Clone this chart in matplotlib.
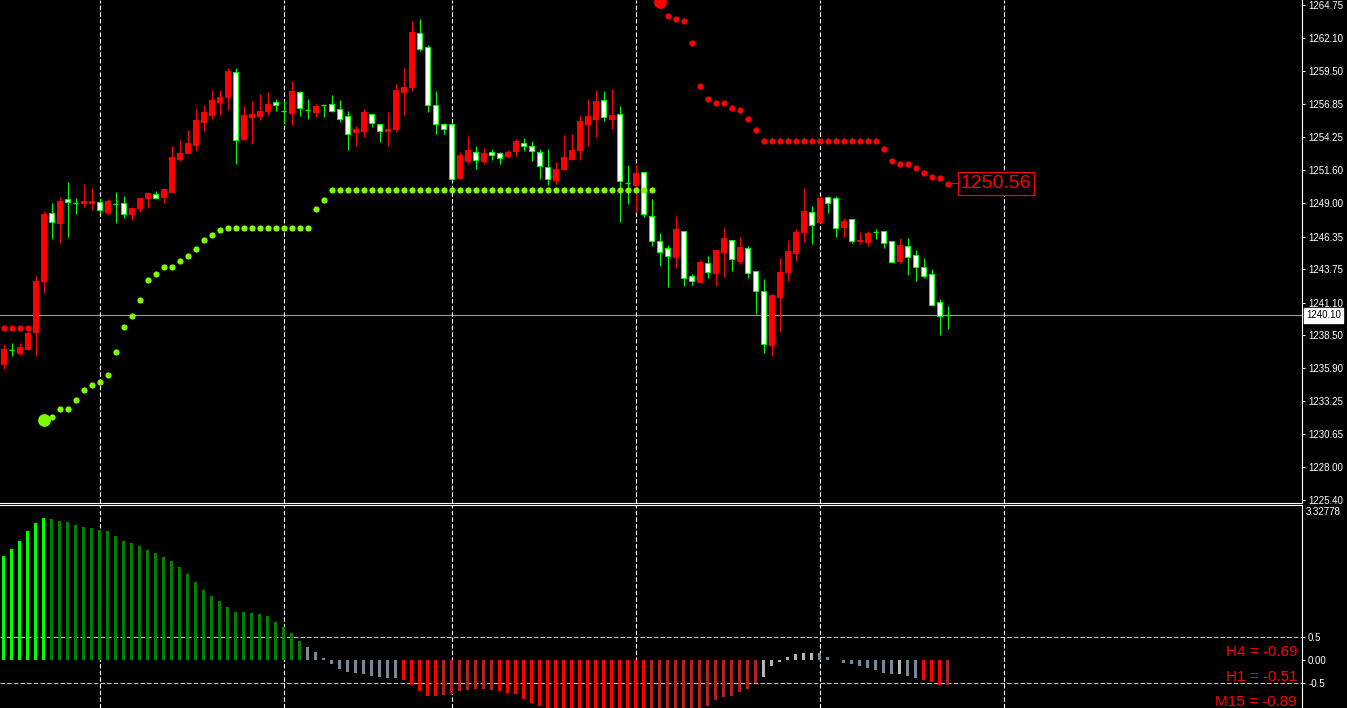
import matplotlib
matplotlib.use("Agg")
import matplotlib.pyplot as plt
import numpy as np
from matplotlib import font_manager

# candles (price units)
OPEN = [1236.24, 1237.33, 1237.11, 1237.41, 1238.78, 1242.81, 1248.19, 1247.42, 1249.33, 1249.04,
        1249.01, 1249.01, 1249.07, 1248.30, 1248.93, 1249.01, 1248.14, 1248.62, 1249.41, 1249.73,
        1249.49, 1249.89, 1252.51, 1252.99, 1253.62, 1255.45, 1256.01, 1257.04, 1257.44, 1259.43,
        1254.10, 1255.85, 1255.93, 1256.33, 1257.04, 1256.35, 1256.17, 1257.84, 1256.41, 1256.25,
        1256.80, 1256.88, 1256.49, 1255.93, 1254.66, 1254.74, 1256.09, 1255.29, 1254.74, 1254.90,
        1257.84, 1258.23, 1262.53, 1261.41, 1256.80, 1255.29, 1255.29, 1251.00, 1252.35, 1253.07,
        1252.35, 1253.07, 1252.99, 1252.75, 1253.15, 1253.78, 1253.54, 1253.07, 1251.88, 1250.84,
        1251.72, 1252.51, 1253.23, 1255.29, 1255.69, 1257.20, 1255.69, 1256.09, 1250.63, 1250.44,
        1251.48, 1247.98, 1245.99, 1245.44, 1244.72, 1246.79, 1243.21, 1242.73, 1244.22, 1243.45,
        1245.12, 1246.07, 1244.40, 1245.44, 1243.61, 1242.02, 1237.73, 1241.57, 1243.55, 1245.06,
        1246.73, 1248.30, 1247.53, 1249.49, 1249.39, 1247.11, 1247.72, 1246.00, 1245.91, 1246.71,
        1246.79, 1245.99, 1244.40, 1245.60, 1244.88, 1243.93, 1243.37, 1241.14, 1240.10]
HIGH = [1237.80, 1237.88, 1237.86, 1238.92, 1243.21, 1248.38, 1249.01, 1249.49, 1250.68, 1249.41,
        1250.52, 1250.21, 1249.41, 1249.33, 1249.89, 1249.57, 1248.70, 1249.49, 1249.81, 1249.97,
        1250.13, 1253.54, 1254.02, 1254.82, 1256.49, 1256.80, 1257.96, 1257.96, 1259.74, 1259.74,
        1256.72, 1257.12, 1257.68, 1257.84, 1257.28, 1257.12, 1258.71, 1257.92, 1257.28, 1256.88,
        1256.80, 1257.60, 1257.20, 1256.33, 1255.13, 1256.49, 1256.09, 1255.29, 1256.25, 1258.47,
        1259.74, 1263.48, 1263.64, 1261.57, 1257.92, 1255.37, 1255.29, 1253.07, 1254.34, 1253.54,
        1253.38, 1253.31, 1253.07, 1253.23, 1254.10, 1254.18, 1253.94, 1253.31, 1253.31, 1252.27,
        1254.42, 1254.50, 1255.93, 1257.28, 1257.96, 1257.92, 1258.08, 1256.72, 1252.03, 1252.03,
        1251.48, 1249.33, 1246.63, 1245.67, 1248.00, 1246.79, 1243.37, 1244.48, 1244.80, 1245.28,
        1247.03, 1246.07, 1246.31, 1245.60, 1243.61, 1242.97, 1241.78, 1244.64, 1246.07, 1246.95,
        1250.21, 1248.77, 1249.41, 1249.57, 1249.57, 1247.82, 1247.72, 1246.71, 1246.79, 1246.95,
        1246.79, 1245.99, 1246.23, 1246.23, 1245.28, 1244.64, 1243.77, 1241.38, 1240.83]
LOW = [1235.82, 1236.85, 1236.93, 1237.41, 1236.88, 1241.88, 1246.15, 1245.83, 1246.31, 1248.14,
       1248.70, 1248.46, 1248.22, 1248.06, 1247.42, 1247.82, 1247.66, 1248.30, 1248.62, 1249.41,
       1249.01, 1249.89, 1252.35, 1252.99, 1253.15, 1254.74, 1255.69, 1256.01, 1256.41, 1252.11,
       1254.02, 1253.70, 1255.61, 1256.01, 1256.33, 1255.29, 1255.21, 1255.93, 1255.69, 1255.85,
       1255.85, 1256.25, 1255.45, 1253.23, 1253.54, 1254.26, 1255.05, 1253.86, 1253.54, 1254.66,
       1256.01, 1257.92, 1261.10, 1256.25, 1254.50, 1254.50, 1250.84, 1250.92, 1252.11, 1251.72,
       1252.11, 1252.43, 1252.11, 1252.59, 1252.75, 1253.15, 1252.35, 1250.92, 1250.44, 1250.52,
       1251.64, 1252.43, 1252.43, 1253.54, 1254.26, 1255.53, 1254.90, 1247.50, 1248.93, 1248.30,
       1247.90, 1245.60, 1244.01, 1242.34, 1243.85, 1242.42, 1242.52, 1242.73, 1243.05, 1242.42,
       1243.13, 1243.61, 1244.16, 1243.05, 1240.19, 1237.11, 1236.88, 1238.78, 1242.81, 1244.40,
       1245.91, 1245.75, 1247.53, 1248.24, 1246.31, 1246.31, 1245.86, 1245.75, 1245.60, 1246.15,
       1245.44, 1244.35, 1244.24, 1243.29, 1242.81, 1243.05, 1240.83, 1238.52, 1239.00]
CLOSE = [1237.41, 1237.33, 1237.57, 1238.68, 1242.81, 1248.14, 1247.53, 1249.17, 1249.12, 1249.04,
         1249.17, 1249.17, 1248.48, 1249.17, 1248.93, 1248.12, 1248.62, 1249.41, 1249.81, 1249.41,
         1250.13, 1252.67, 1252.99, 1253.78, 1255.61, 1256.25, 1257.20, 1257.44, 1259.51, 1254.02,
         1256.01, 1256.09, 1256.33, 1256.88, 1256.80, 1256.35, 1257.92, 1256.57, 1256.41, 1256.72,
         1256.80, 1256.33, 1255.69, 1254.50, 1254.90, 1256.25, 1255.37, 1254.74, 1254.90, 1257.96,
         1258.23, 1262.61, 1261.26, 1256.80, 1255.29, 1254.90, 1250.92, 1252.83, 1253.23, 1252.43,
         1252.99, 1252.83, 1252.59, 1253.07, 1253.94, 1253.54, 1253.15, 1251.96, 1250.92, 1251.72,
         1252.67, 1253.23, 1255.53, 1255.93, 1257.12, 1255.85, 1256.01, 1250.76, 1250.63, 1251.40,
         1248.14, 1245.99, 1245.12, 1244.80, 1246.95, 1243.08, 1242.84, 1244.32, 1243.53, 1245.28,
         1246.23, 1244.59, 1245.52, 1243.45, 1242.04, 1237.83, 1241.70, 1243.53, 1245.20, 1246.71,
         1248.38, 1247.29, 1249.41, 1249.04, 1247.05, 1247.58, 1246.02, 1246.07, 1246.63, 1246.71,
         1245.86, 1244.35, 1245.67, 1244.72, 1243.93, 1243.21, 1240.91, 1240.05, 1240.10]

# parabolic SAR: below price (green) and above price (red); None = not shown
SAR_UP = ([None] * 5 +
          [1231.77, 1232.03, 1232.64, 1232.64, 1233.35, 1234.15, 1234.55, 1234.78, 1235.34,
           1237.17, 1239.16, 1240.03, 1241.30, 1242.89, 1243.37, 1243.93, 1243.93, 1244.40,
           1244.80, 1245.36, 1246.07, 1246.47, 1246.87] +
          [1247.03] * 11 + [1248.54, 1249.25] + [1250.07] * 41 + [None] * 37)
SAR_DN = ([1239.10] * 5 + [None] * 77 +
          [1265.01, 1263.88, 1263.66, 1263.48, 1261.76, 1258.31, 1257.28, 1256.96, 1256.96,
           1256.57, 1256.41, 1255.69, 1254.82] +
          [1253.94] * 15 +
          [1253.31, 1252.35, 1252.11, 1252.11, 1251.80, 1251.40, 1251.08, 1251.00, 1250.56])

BID = 1240.10
PRICE_TICKS = [1264.75, 1262.10, 1259.50, 1256.85, 1254.25, 1251.60, 1249.00, 1246.35,
               1243.75, 1241.10, 1238.50, 1235.90, 1233.25, 1230.65, 1228.00, 1225.40]

# histogram oscillator
HIST = [2.26, 2.41, 2.59, 2.80, 2.98, 3.09, 3.07, 3.02, 3.00, 2.93,
        2.89, 2.87, 2.83, 2.80, 2.70, 2.59, 2.54, 2.48, 2.39, 2.33,
        2.24, 2.15, 2.02, 1.87, 1.70, 1.52, 1.39, 1.28, 1.15, 1.04,
        1.04, 1.02, 1.00, 0.96, 0.83, 0.72, 0.59, 0.41, 0.28, 0.17,
        0.04, -0.09, -0.20, -0.26, -0.28, -0.30, -0.35, -0.37, -0.39, -0.39,
        -0.43, -0.54, -0.67, -0.78, -0.78, -0.75, -0.74, -0.67, -0.65, -0.63,
        -0.63, -0.65, -0.67, -0.72, -0.74, -0.85, -0.93, -1.00, -1.08, -1.15,
        -1.22, -1.28, -1.33, -1.37, -1.41, -1.44, -1.46, -1.48, -1.50, -1.51,
        -1.52, -1.47, -1.40, -1.33, -1.25, -1.17, -1.10, -1.05, -1.00, -0.87,
        -0.80, -0.78, -0.69, -0.62, -0.51, -0.36, -0.14, -0.04, 0.07, 0.13,
        0.16, 0.16, 0.16, 0.07, -0.01, -0.06, -0.09, -0.13, -0.17, -0.22,
        -0.28, -0.30, -0.30, -0.35, -0.39, -0.43, -0.48, -0.54, -0.54]
HIST_STATE = ("L" * 6 + "G" * 32 + "S" * 12 + "R" * 5 + "F" * 7 + "R" * 19 + "F" * 14 +
              "W" * 7 + "S" * 10 + "W" + "S" * 2 + "R" * 3 + "F")
HIST_TICKS = [0.5, 0.0, -0.5]
HIST_TICKLABELS = ["0.5", "0.00", "-0.5"]
HIST_MAX = "3.32778"
TF_LABELS = ["H4 = -0.69", "H1 = -0.51", "M15 = -0.89"]

GRID_BARS = [12, 35, 56, 79, 102, 125]

HIST_CLRS = {"L": "#00ff00", "G": "#008000", "S": "#778899", "W": "#b4b4b4",
             "R": "#ff0000", "F": "#b22222"}
BULL = "#ff0000"
BEAR = "#00ff00"
SAR_G = "#7cfc00"
SAR_R = "#ff0000"

plt.rcParams['font.family'] = ['Liberation Sans', 'DejaVu Sans']

W, H = 1347, 708
fig = plt.figure(figsize=(W / 100, H / 100), dpi=100, facecolor='black')
ax = fig.add_axes([0, (H - 503) / H, 1302 / W, 503 / H], facecolor='black')
ax2 = fig.add_axes([0, 0, 1302 / W, 203 / H], facecolor='black')

n = len(OPEN)
x = np.arange(n)
o = np.array(OPEN)
h = np.array(HIGH)
l = np.array(LOW)
c = np.array(CLOSE)
up = c > o
dn = c < o
dj = c == o

LW = 0.75
# wicks
ax.vlines(x[up], l[up], h[up], color=BULL, lw=LW, zorder=2)
ax.vlines(x[~up], l[~up], h[~up], color=BEAR, lw=LW, zorder=2)
# bodies
ax.bar(x[up], c[up] - o[up], bottom=o[up], width=0.55, color=BULL,
       edgecolor=BULL, lw=LW, zorder=3)
ax.bar(x[dn], o[dn] - c[dn], bottom=c[dn], width=0.55, color='white',
       edgecolor=BEAR, lw=LW, zorder=3)
ax.hlines(o[dj], x[dj] - 0.33, x[dj] + 0.33, color=BEAR, lw=LW * 1.3, zorder=3)

# SAR dots, first dot after a flip is drawn bigger
for vals, clr in [(SAR_UP, SAR_G), (SAR_DN, SAR_R)]:
    v = np.array([np.nan if a is None else a for a in vals], dtype=float)
    prev = np.concatenate([[0.0], v[:-1]])
    big = ~np.isnan(v) & np.isnan(prev)
    ax.scatter(x, v, s=20, color=clr, lw=0, zorder=4)
    ax.scatter(x[big], v[big], s=85, color=clr, lw=0, zorder=4)

ax.axhline(BID, color='#9a9aa8', lw=0.8, zorder=1)

# last SAR price label
names = {f.name for f in font_manager.fontManager.ttflist}
if 'Liberation Sans Narrow' in names:
    lab_fam, lab_fs = 'Liberation Sans Narrow', 16.5
else:
    lab_fam, lab_fs = 'Liberation Sans', 14
ax.annotate(f"{SAR_DN[-1]:.2f}", xy=(n - 1, SAR_DN[-1]), xytext=(13, 0),
            textcoords='offset pixels', ha='left', va='center', color=SAR_R,
            fontsize=lab_fs, family=lab_fam,
            bbox=dict(boxstyle='square,pad=0.14', fc='black', ec=SAR_R, lw=0.8),
            arrowprops=dict(arrowstyle='-', color=SAR_R, lw=0.8, shrinkA=0, shrinkB=0),
            zorder=5)

# histogram
ax2.bar(x, HIST, width=0.4, color=[HIST_CLRS[s] for s in HIST_STATE], lw=0, zorder=2)
for lv in HIST_TICKS:
    if lv != 0:
        ax2.axhline(lv, color='#c8c8c8', lw=0.8, ls=(0, (4, 2)), zorder=1)

for a in (ax, ax2):
    for g in GRID_BARS:
        a.axvline(g, color='white', lw=0.8, ls=(0, (4, 2)), zorder=1)
    a.set_xlim(-0.4375, 162.3125)
    a.set_xticks([])
    for s in ('left', 'top', 'bottom', 'right'):
        a.spines[s].set_visible(False)
    a.spines['right'].set_visible(True)
    a.spines['right'].set_color('white')
    a.yaxis.tick_right()
    a.tick_params(axis='y', colors='white', labelsize=7, length=2.2, width=0.7,
                  pad=2.2)

ax.spines['bottom'].set_visible(True)
ax.spines['bottom'].set_color('white')
ax2.spines['top'].set_visible(True)
ax2.spines['top'].set_color('white')

ax.set_ylim(1225.17, 1265.15)
ax.set_yticks(PRICE_TICKS)
ax.set_yticklabels([f"{p:.2f}" for p in PRICE_TICKS])
ax.annotate(f"{BID:.2f}", xy=(1, BID), xycoords=('axes fraction', 'data'),
            xytext=(4, 0), textcoords='offset pixels', ha='left', va='center',
            color='black', fontsize=7,
            bbox=dict(boxstyle='square,pad=0.25', fc='white', ec='white'),
            annotation_clip=False)

ax2.set_ylim(-1.043, 3.37)
ax2.set_yticks(HIST_TICKS)
ax2.set_yticklabels(HIST_TICKLABELS)
ax2.annotate(HIST_MAX, xy=(1, 1), xycoords='axes fraction', xytext=(4, -2),
             textcoords='offset pixels', ha='left', va='top', color='white',
             fontsize=7, annotation_clip=False)

for k, txt in enumerate(TF_LABELS):
    fig.text(1297 / W, 1 - (656 + 25 * k) / H, txt, ha='right', va='baseline',
             color='red', fontsize=11)

fig.savefig('out.png', dpi=100, facecolor='black')
